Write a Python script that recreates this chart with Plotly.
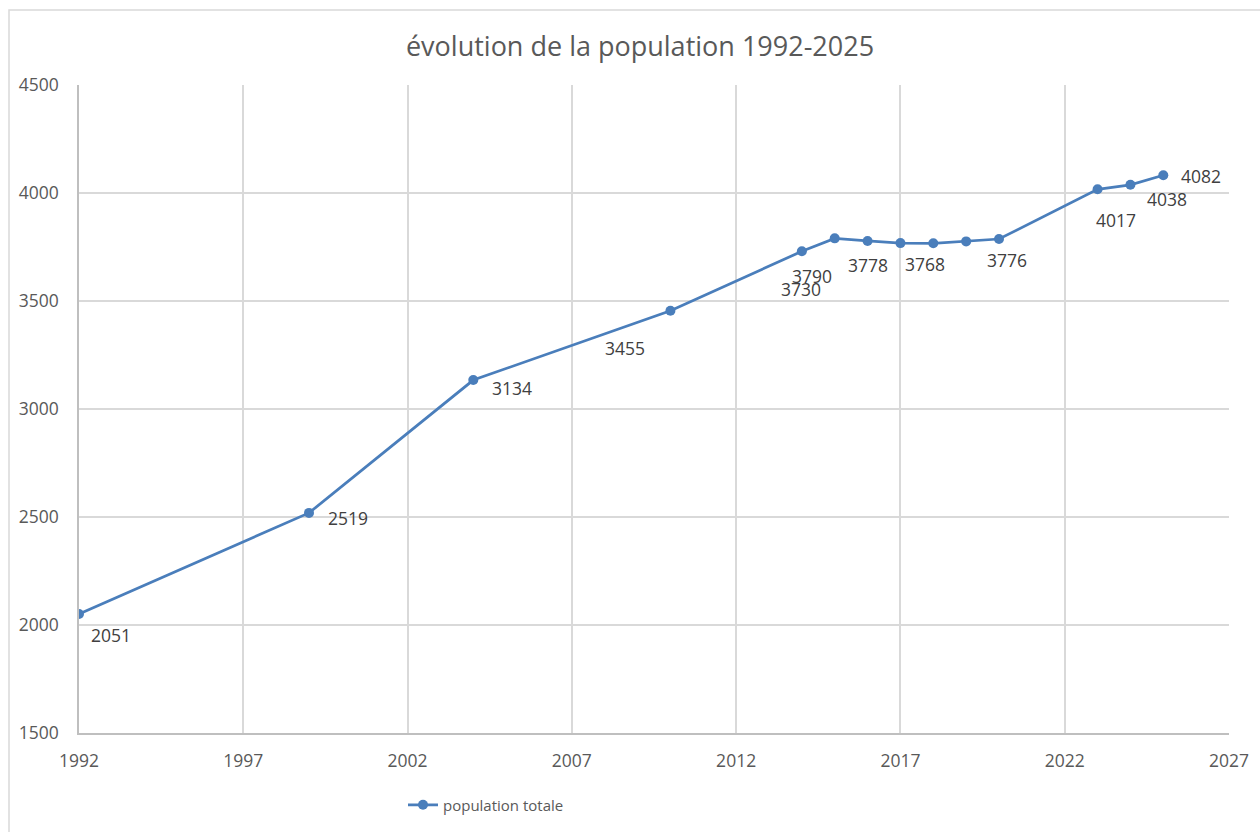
import plotly.graph_objects as go

years = [1992, 1999, 2004, 2010, 2014, 2015, 2016, 2017, 2018, 2019, 2020, 2023, 2024, 2025]
population = [2051, 2519, 3134, 3455, 3730, 3790, 3778, 3768, 3767, 3776, 3787, 4017, 4038, 4082]
labelled_years = [1992, 1999, 2004, 2010, 2014, 2015, 2016, 2017, 2019, 2023, 2024, 2025]
series_name = "population totale"
title_text = "évolution de la population 1992-2025"

# label offsets in pixels (dx, dy downward) relative to each labelled point
label_offsets = {
    1992: (32, 21), 1999: (39, 5), 2004: (39, 8), 2010: (-45, 37),
    2014: (-1, 38), 2015: (-23, 38), 2016: (0, 24), 2017: (25, 21),
    2019: (41, 19), 2023: (18, 31), 2024: (37, 14), 2025: (38, 1),
}

LINE = "#4A7EBB"
GRID = "#D9D9D9"
TXT = "#595959"
FONT = "Open Sans"

fig = go.Figure()
fig.add_trace(go.Scatter(
    x=years, y=population, mode="lines+markers", name=series_name,
    line=dict(color=LINE, width=2.75),
    marker=dict(color=LINE, size=10),
    hoverinfo="x+y",
))

for yr, val in zip(years, population):
    if yr in labelled_years:
        dx, dy = label_offsets[yr]
        fig.add_annotation(
            x=yr, y=val, xref="x", yref="y", text=str(val), showarrow=False,
            xshift=dx, yshift=-dy, font=dict(family=FONT, size=17.5, color="#404040"),
        )

W, H = 1260, 832
L, R, T, B = 79, 31, 85, 99
pw, ph = W - L - R, H - T - B

def px(xp):
    return (xp - L) / pw

def py(yp):
    return (H - B - yp) / ph

# outer chart border (left & top)
fig.add_shape(type="path", xref="paper", yref="paper",
              path=f"M {px(9)} {py(840)} L {px(9)} {py(10)} L {px(1270)} {py(10)}",
              line=dict(color="#D9D9D9", width=1.5))

fig.update_layout(
    width=W, height=H,
    margin=dict(l=L, r=R, t=T, b=B, autoexpand=False),
    paper_bgcolor="white", plot_bgcolor="white",
    title=dict(text=title_text, x=(640) / W, xanchor="center", y=1 - 47 / H, yanchor="middle",
               font=dict(family=FONT, size=27, color=TXT)),
    font=dict(family=FONT, color=TXT),
    showlegend=True,
    legend=dict(orientation="h", x=px(403), xanchor="left", y=py(805), yanchor="middle",
                font=dict(family=FONT, size=15, color=TXT), bgcolor="rgba(0,0,0,0)"),
    xaxis=dict(range=[1992, 2027], tick0=1992, dtick=5, showgrid=True, gridcolor=GRID, gridwidth=1.5,
               showline=True, linecolor="#BFBFBF", linewidth=1.5, zeroline=False,
               ticks="", ticklabelstandoff=11, tickfont=dict(family=FONT, size=17.5, color=TXT)),
    yaxis=dict(range=[1500, 4500], tick0=1500, dtick=500, showgrid=True, gridcolor=GRID, gridwidth=1.5,
               showline=True, linecolor="#BFBFBF", linewidth=1.5, zeroline=False,
               ticks="", ticklabelstandoff=15, tickfont=dict(family=FONT, size=17.5, color=TXT)),
)

fig.write_html("out.html")
